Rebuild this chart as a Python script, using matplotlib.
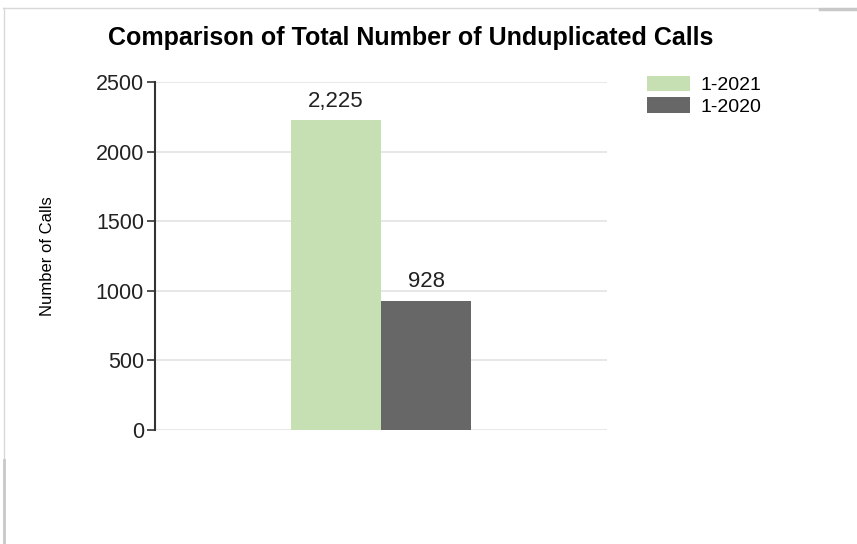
import matplotlib.pyplot as plt
from matplotlib.lines import Line2D

# data
series = ['1-2021', '1-2020']
values = [2225, 928]
value_labels = ['2,225', '928']
colors = ['#c6e0b4', '#676767']
yticks = [0, 500, 1000, 1500, 2000, 2500]

plt.rcParams['font.family'] = ['Liberation Sans', 'DejaVu Sans']

fig = plt.figure(figsize=(8.57, 5.44), dpi=100)
ax = fig.add_axes([155 / 857, 1 - 430 / 544, 452 / 857, 348 / 544])

# bars, side by side around the centre
width = 0.4
positions = [-width / 2, width / 2]
for pos, val, lab, col, name in zip(positions, values, value_labels, colors, series):
    ax.bar(pos, val, width=width, color=col, label=name, zorder=3)
    ax.annotate(lab, (pos, val), xytext=(0, 6), textcoords='offset points',
                ha='center', va='bottom', fontsize=16, color='#222222')

ax.set_xlim(-1, 1)
ax.set_ylim(0, 2500)
ax.set_yticks(yticks)
ax.set_yticklabels([str(t) for t in yticks], fontsize=15.5, color='#222222')
ax.set_xticks([])
ax.tick_params(axis='y', length=6, width=1.2, color='#333333', pad=2)

ax.grid(axis='y', color='#e3e3e3', linewidth=1.2, zorder=0)
for side in ['top', 'right', 'bottom']:
    ax.spines[side].set_visible(False)
ax.spines['left'].set_color('#333333')
ax.spines['left'].set_linewidth(1.5)

ax.set_ylabel('Number of Calls', fontsize=12)
ax.yaxis.set_label_coords(-0.222, 0.5)

fig.text(411 / 857, 1 - 38 / 544, 'Comparison of Total Number of Unduplicated Calls',
         ha='center', va='center', fontsize=18, fontweight='bold')

ax.legend(loc='upper left', bbox_to_anchor=(1.05, 1.068), frameon=False,
          fontsize=14, handlelength=2.2, handleheight=0.85, labelspacing=0.15,
          handletextpad=0.55)

# faint page borders
fig.add_artist(Line2D([0.004, 0.955], [1 - 8 / 544, 1 - 8 / 544], transform=fig.transFigure,
                      color='#d8d8d8', linewidth=1))
fig.add_artist(Line2D([0.957, 1.0], [1 - 9 / 544, 1 - 9 / 544], transform=fig.transFigure,
                      color='#c8c8c8', linewidth=2.5))
fig.add_artist(Line2D([0.005, 0.005], [1 - 8 / 544, 1 - 460 / 544], transform=fig.transFigure,
                      color='#d8d8d8', linewidth=1))
fig.add_artist(Line2D([0.0045, 0.0045], [1 - 460 / 544, 0], transform=fig.transFigure,
                      color='#c8c8c8', linewidth=2))

fig.savefig('out.png', dpi=100)
